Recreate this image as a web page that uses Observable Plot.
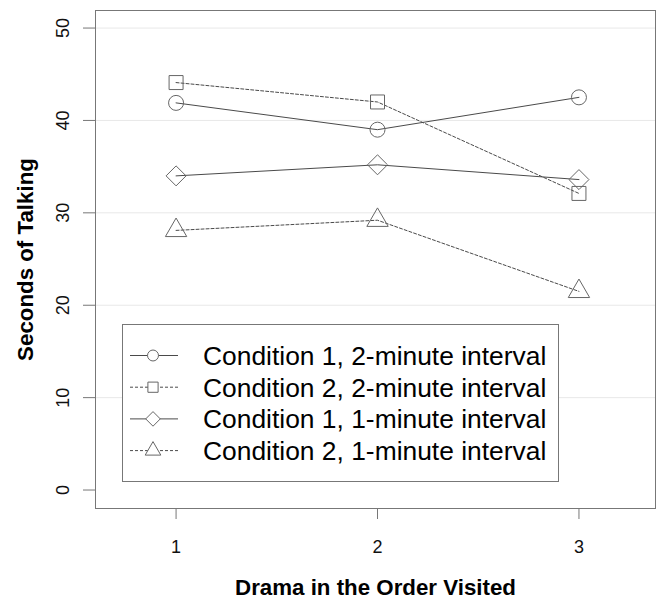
<!DOCTYPE html>
<html><head><meta charset="utf-8">
<script src="https://cdn.jsdelivr.net/npm/d3@7"></script>
<script src="https://cdn.jsdelivr.net/npm/@observablehq/plot@0.6"></script>
<style>
body{margin:0;background:#fff;font-family:"Liberation Sans",Arial,Helvetica,sans-serif;}
#wrap{position:relative;width:656px;height:601px;}
#legend{position:absolute;left:122px;top:324px;width:437px;height:158px;}
</style></head><body><div id="wrap"></div>
<script>
// ---- data ----
const drama = [1, 2, 3];
const seriesNames = [
  "Condition 1, 2-minute interval",
  "Condition 2, 2-minute interval",
  "Condition 1, 1-minute interval",
  "Condition 2, 1-minute interval"
];
const cond1_2min = [41.9, 39.0, 42.5];
const cond2_2min = [44.1, 42.0, 32.1];
const cond1_1min = [34.0, 35.2, 33.6];
const cond2_1min = [28.1, 29.2, 21.5];
const yTicks = [0, 10, 20, 30, 40, 50];
const gridTicks = [10, 20, 30, 40, 50];
const xTicks = [1, 2, 3];
const xTitle = "Drama in the Order Visited";
const yTitle = "Seconds of Talking";

// ---- styling per series ----
const styles = [
  {values: cond1_2min, symbol: "circle", d3sym: d3.symbolCircle, r: 7.5, dash: null},
  {values: cond2_2min, symbol: "square2", d3sym: d3.symbolSquare2, r: 8.9, dash: "3,2"},
  {values: cond1_1min, symbol: "diamond2", d3sym: d3.symbolDiamond2, r: 9.0, dash: null},
  {values: cond2_1min, symbol: "triangle2", d3sym: d3.symbolTriangle2, r: 10.2, dash: "3,2"}
];
const lineColor = "#4a4a4a";
const markColor = "#666";
const frameColor = "#777";

const marks = [Plot.ruleY(gridTicks, {stroke: "#e8e8e8"})];
styles.forEach((s, i) => {
  const rows = drama.map((x, j) => ({x, y: s.values[j], series: seriesNames[i]}));
  marks.push(Plot.line(rows, {x: "x", y: "y", stroke: lineColor, strokeWidth: 1, strokeDasharray: s.dash}));
  marks.push(Plot.dot(rows, {x: "x", y: "y", symbol: s.symbol, r: s.r, stroke: markColor, fill: "none", strokeWidth: 1}));
});
marks.push(
  Plot.frame({stroke: frameColor}),
  Plot.axisY({ticks: yTicks, tickSize: 12, tickFormat: () => "", stroke: frameColor, label: null}),
  Plot.text(yTicks, {y: d => d, text: d => String(d), frameAnchor: "left", textAnchor: "middle", dx: -32, rotate: -90, fontSize: 18, fill: "#111"}),
  Plot.axisX({ticks: xTicks, tickFormat: d => String(d), tickSize: 11, tickPadding: 21, fontSize: 18, stroke: frameColor, fill: "#111", label: null}),
  Plot.text([yTitle], {frameAnchor: "left", textAnchor: "middle", dx: -70, rotate: -90, fontWeight: "bold", fontSize: 22.3, fill: "#000"}),
  Plot.text([xTitle], {frameAnchor: "bottom", dy: 86, fontWeight: "bold", fontSize: 22.3, fill: "#000"})
);

const chart = Plot.plot({
  width: 656, height: 601,
  marginLeft: 95, marginRight: 1, marginTop: 10, marginBottom: 93,
  style: {fontFamily: '"Liberation Sans", Arial, sans-serif', background: "#fff"},
  x: {domain: [0.6, 3.38]},
  y: {domain: [-2, 51.9]},
  marks
});
const wrap = document.getElementById("wrap");
wrap.appendChild(chart);

// ---- legend overlay ----
const lw = 437, lh = 158;
const leg = d3.select(wrap).append("svg").attr("id", "legend").attr("width", lw).attr("height", lh);
leg.append("rect").attr("x", 0.5).attr("y", 0.5).attr("width", lw - 1).attr("height", lh - 1)
  .attr("fill", "#fff").attr("stroke", frameColor);
styles.forEach((s, i) => {
  const cy = 31.5 + i * 31.7;
  const g = leg.append("g").attr("transform", `translate(0,${cy})`);
  g.append("line").attr("x1", 8).attr("x2", 56).attr("y1", 0).attr("y2", 0)
    .attr("stroke", lineColor).attr("stroke-dasharray", s.dash);
  const rr = s.r * 0.73;
  g.append("path").attr("transform", "translate(31,0)")
    .attr("d", d3.symbol(s.d3sym, Math.PI * rr * rr)())
    .attr("fill", "#fff").attr("stroke", markColor);
  g.append("text").attr("x", 81).attr("y", 0).attr("dy", "0.36em")
    .attr("font-size", 26.4).attr("fill", "#000").text(seriesNames[i]);
});
</script>
</body></html>
